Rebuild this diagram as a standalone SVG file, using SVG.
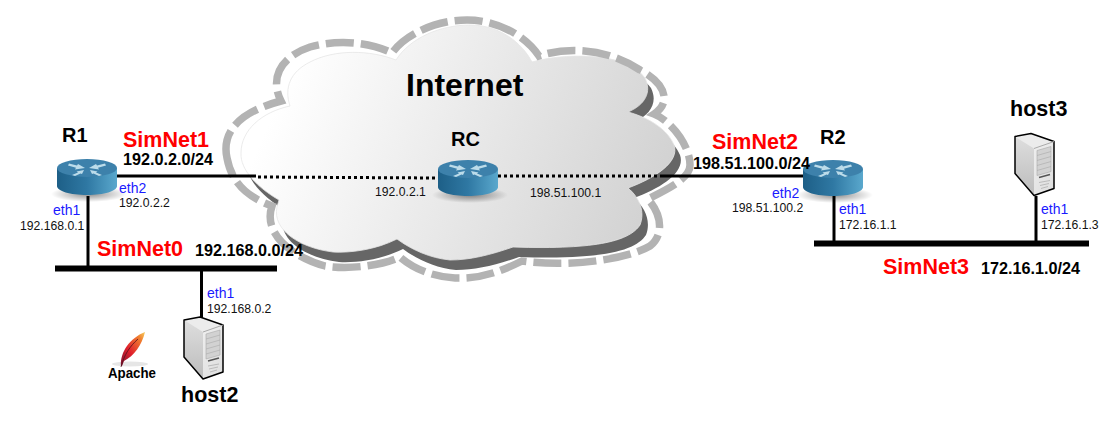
<svg xmlns="http://www.w3.org/2000/svg" xmlns:xlink="http://www.w3.org/1999/xlink" width="1120" height="434" viewBox="0 0 1120 434">
<style>
text{font-family:"Liberation Sans",Arial,sans-serif;fill:#000}
.name{font-size:20px;font-weight:700}
.host{font-size:21.5px;font-weight:700}
.net{font-size:21.500px;font-weight:700;fill:#f00}
.cidr{font-size:16.2px;font-weight:700}
.if{font-size:14px;fill:#1a1aff}
.ip{font-size:12.2px;fill:#111}
.wire{stroke:#000;stroke-width:3;fill:none}
.bus{stroke:#000;stroke-width:6;fill:none}
.dot{stroke:#000;stroke-width:3;fill:none;stroke-dasharray:3 3}
</style>
<defs>
<linearGradient id="cg" gradientUnits="userSpaceOnUse" x1="285" y1="85" x2="640" y2="240"><stop offset="0" stop-color="#ffffff"/><stop offset="1" stop-color="#d2d2d2"/></linearGradient>
<linearGradient id="rs" x1="0" x2="1" y1="0" y2="0"><stop offset="0" stop-color="#1d5f87"/><stop offset="0.5" stop-color="#2f78a3"/><stop offset="1" stop-color="#5aa8cd"/></linearGradient>
<radialGradient id="rsh"><stop offset="0" stop-color="#000" stop-opacity=".45"/><stop offset="1" stop-color="#000" stop-opacity="0"/></radialGradient>
<linearGradient id="sf" x1="0" x2="1" y1="0" y2="1"><stop offset="0" stop-color="#f6f6f6"/><stop offset="1" stop-color="#dedede"/></linearGradient>
<linearGradient id="sl" x1="0" x2="0" y1="0" y2="1"><stop offset="0" stop-color="#dedede"/><stop offset="1" stop-color="#bcbcbc"/></linearGradient>
<linearGradient id="fe" x1="0" x2="1" y1="1" y2="0"><stop offset="0" stop-color="#7a1030"/><stop offset=".4" stop-color="#e0202c"/><stop offset=".8" stop-color="#f08030"/><stop offset="1" stop-color="#f6d060"/></linearGradient>
<path id="cloudShape" d="M241 153C241 130 262 112 290 106C284 88 290 72 310 62C335 49 370 50 396 60C410 38 440 25 470 25C500 25 522 43 532 62C560 54 625 50 645 78C652 92 645 105 628 112C650 118 668 130 674 145C680 162 655 178 628 188C640 198 645 212 640 225C630 240 600 250 513 247C490 255 470 260 450 260C430 258 412 250 397 239C375 250 350 253 333 252C300 248 272 230 277 207L279 200C258 188 240 170 241 153Z"/>
<g id="router">
<ellipse cx="32" cy="35" rx="38" ry="8" fill="url(#rsh)"/>
<path d="M0 9V27C0 32 13 36 30 36S60 32 60 27V9Z" fill="url(#rs)"/>
<ellipse cx="30" cy="9" rx="30" ry="9" fill="#3d81ab"/>
<g fill="#bcdcea">
<path d="M12 4.500L20 6.500L21 5L28 9L18 10.500L19 8.800L11 6.500Z"/>
<path d="M48 4.500L40 6.500L39 5L32 9L42 10.500L41 8.800L49 6.500Z"/>
<path d="M15 16L21 13.500L19.500 12.500L27 11L25 15L23.500 14.500L18 17Z"/>
<path d="M45 16L39 13.500L40.500 12.500L33 11L35 15L36.500 14.500L42 17Z"/>
</g>
</g>
<g id="server">
<path d="M1 3L17 0L40 8L40 55L20 62L1 40Z" fill="url(#sf)"/>
<path d="M1 3L17 0L40 8L20 15Z" fill="#ececec"/>
<path d="M1 3L20 15L20 62L1 40Z" fill="url(#sl)"/>
<path d="M1 3L17 0L40 8L40 55L20 62L1 40Z" fill="none" stroke="#000" stroke-width="1.500" stroke-linejoin="round"/>
<path d="M20 15L40 8" stroke="#aaa" fill="none"/>
<path d="M23 17L37 13V38L23 42Z" fill="#d2d2d2" stroke="#aaa" stroke-width=".6"/>
<path d="M23 22L37 18M23 27L37 23M23 32L37 28M23 37L37 33" stroke="#aaa" stroke-width=".6" fill="none"/>
<path d="M25 44L36 41" stroke="#555" stroke-width="1.500" fill="none"/>
<path d="M25 49L36 47M26 52L35 50M27 55L34 53" stroke="#bbb" fill="none"/>
</g>
</defs>

<g id="internet">
<use xlink:href="#cloudShape" href="#cloudShape" transform="translate(6 10)" fill="#666"/>
<use xlink:href="#cloudShape" href="#cloudShape" fill="url(#cg)" stroke="#e6e6e6" stroke-width=".8"/>
<path d="M227 158C222 135 235 113 281 101C268 75 285 55 310 47C338 39 370 42 392 53C405 35 435 20 467 20C497 20 525 35 539 56C565 47 605 47 640 70C660 80 675 100 654 114C670 120 690 145 690 165C690 178 670 188 648 199C662 215 664 235 650 246C630 258 575 268 522 261C500 272 480 279 455 278C435 277 415 270 400 257C385 265 350 270 325 266C295 258 262 235 272 206C250 198 232 185 227 158Z" fill="none" stroke="#b3b3b3" stroke-width="7.500" stroke-dasharray="28 7"/>
<text x="406" y="96" font-size="32" font-weight="700">Internet</text>
</g>

<g id="connectors">
<path class="wire" d="M116 176H256"/>
<path class="dot" d="M258 177L438 178"/>
<path class="dot" d="M498 176H665"/>
<path class="wire" d="M663 176H805"/>
<path class="wire" d="M88 196V268"/>
<path class="wire" d="M201.500 268V318"/>
<path class="wire" d="M834 195V243"/>
<path class="wire" d="M1036 196V243"/>
<path class="bus" d="M55 268.500H277"/>
<path class="bus" d="M814 243.500H1089"/>
</g>

<g id="R1">
<use xlink:href="#router" href="#router" x="57" y="159"/>
<text class="name" x="62" y="142">R1</text>
<text class="if" x="119" y="193">eth2</text>
<text class="ip" x="119" y="207">192.0.2.2</text>
<text class="if" x="53" y="215">eth1</text>
<text class="ip" x="20" y="230">192.168.0.1</text>
</g>
<g id="RC">
<use xlink:href="#router" href="#router" x="438" y="160"/>
<text class="name" x="451" y="146">RC</text>
<text class="ip" x="375" y="196">192.0.2.1</text>
<text class="ip" x="530" y="197">198.51.100.1</text>
</g>
<g id="R2">
<use xlink:href="#router" href="#router" x="803" y="160"/>
<text class="name" x="820" y="144">R2</text>
<text class="if" x="772" y="198">eth2</text>
<text class="ip" x="732" y="212">198.51.100.2</text>
<text class="if" x="839" y="214">eth1</text>
<text class="ip" x="839" y="229">172.16.1.1</text>
</g>
<g id="host2">
<use xlink:href="#server" href="#server" x="183" y="317"/>
<text class="host" x="181" y="402">host2</text>
<text class="if" x="207" y="298">eth1</text>
<text class="ip" x="207" y="313">192.168.0.2</text>
</g>
<g id="host3">
<use xlink:href="#server" href="#server" x="1014" y="133.500"/>
<text class="host" x="1010" y="116">host3</text>
<text class="if" x="1041" y="214">eth1</text>
<text class="ip" x="1041" y="229">172.16.1.3</text>
</g>
<g id="SimNet1">
<text class="net" x="123" y="147">SimNet1</text>
<text class="cidr" x="123" y="165">192.0.2.0/24</text>
</g>
<g id="SimNet0">
<text class="net" x="97" y="256">SimNet0</text>
<text class="cidr" x="195" y="256">192.168.0.0/24</text>
</g>
<g id="SimNet2">
<text class="net" x="712" y="149">SimNet2</text>
<text class="cidr" x="693" y="169">198.51.100.0/24</text>
</g>
<g id="SimNet3">
<text class="net" x="883" y="274">SimNet3</text>
<text class="cidr" x="981" y="274">172.16.1.0/24</text>
</g>
<g id="apache">
<ellipse cx="130" cy="364" rx="18" ry="2.500" fill="#e6e6e6"/>
<path d="M121 366C120 352 130 338 145 332C142 345 134 356 124 361L122 366Z" fill="url(#fe)"/>
<path d="M121 367C124 355 130 346 138 339" stroke="#50101c" stroke-width=".8" fill="none"/>
<text x="108" y="378" font-size="15" font-weight="700" fill="#222" textLength="48" lengthAdjust="spacingAndGlyphs">Apache</text>
</g>
</svg>
